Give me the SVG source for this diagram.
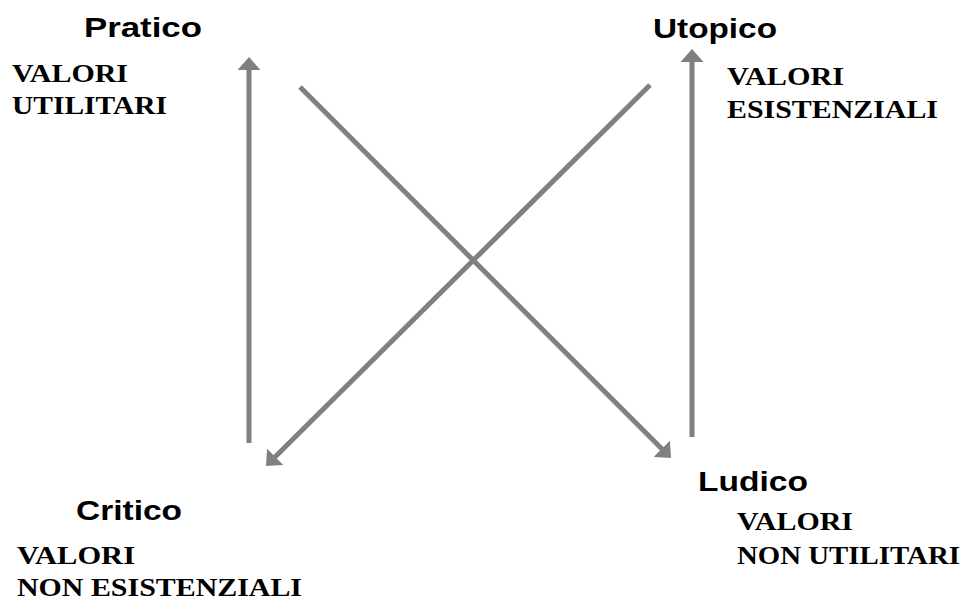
<svg xmlns="http://www.w3.org/2000/svg" width="972" height="601" viewBox="0 0 972 601">
<style>
.t{font-family:"Liberation Sans",Arial,sans-serif;font-weight:bold;font-size:28px;fill:#000}
.s{font-family:"Liberation Serif","Times New Roman",serif;font-weight:bold;font-size:25px;fill:#000}
.c{stroke:#808080;stroke-width:5;fill:none;marker-end:url(#ah)}
</style>
<defs>
<marker id="ah" markerUnits="userSpaceOnUse" viewBox="0 0 13 23" refX="1" refY="11.5" markerWidth="13" markerHeight="23" orient="auto">
<path d="M0,0 L13,11.5 L0,23 z" fill="#808080"/>
</marker>
</defs>
<rect width="972" height="601" fill="#fff"/>
<g id="connectors">
<line class="c" x1="249" y1="443" x2="249" y2="69"/>
<line class="c" x1="692" y1="437" x2="692" y2="61"/>
<line class="c" x1="300" y1="87" x2="662.5" y2="449.5"/>
<line class="c" x1="650" y1="85" x2="274.5" y2="457.5"/>
</g>
<g id="pratico">
<text class="t" x="84" y="37" textLength="118" lengthAdjust="spacingAndGlyphs">Pratico</text>
<text class="s" x="12" y="82" textLength="116" lengthAdjust="spacingAndGlyphs">VALORI</text>
<text class="s" x="12" y="114" textLength="155" lengthAdjust="spacingAndGlyphs">UTILITARI</text>
</g>
<g id="utopico">
<text class="t" x="653" y="38" textLength="124" lengthAdjust="spacingAndGlyphs">Utopico</text>
<text class="s" x="727" y="85" textLength="117" lengthAdjust="spacingAndGlyphs">VALORI</text>
<text class="s" x="727" y="118" textLength="211" lengthAdjust="spacingAndGlyphs">ESISTENZIALI</text>
</g>
<g id="critico">
<text class="t" x="76" y="520" textLength="106" lengthAdjust="spacingAndGlyphs">Critico</text>
<text class="s" x="17" y="564" textLength="118" lengthAdjust="spacingAndGlyphs">VALORI</text>
<text class="s" x="17" y="596" textLength="285" lengthAdjust="spacingAndGlyphs">NON ESISTENZIALI</text>
</g>
<g id="ludico">
<text class="t" x="698" y="491" textLength="110" lengthAdjust="spacingAndGlyphs">Ludico</text>
<text class="s" x="737" y="530" textLength="116" lengthAdjust="spacingAndGlyphs">VALORI</text>
<text class="s" x="737" y="564" textLength="223" lengthAdjust="spacingAndGlyphs">NON UTILITARI</text>
</g>
</svg>
